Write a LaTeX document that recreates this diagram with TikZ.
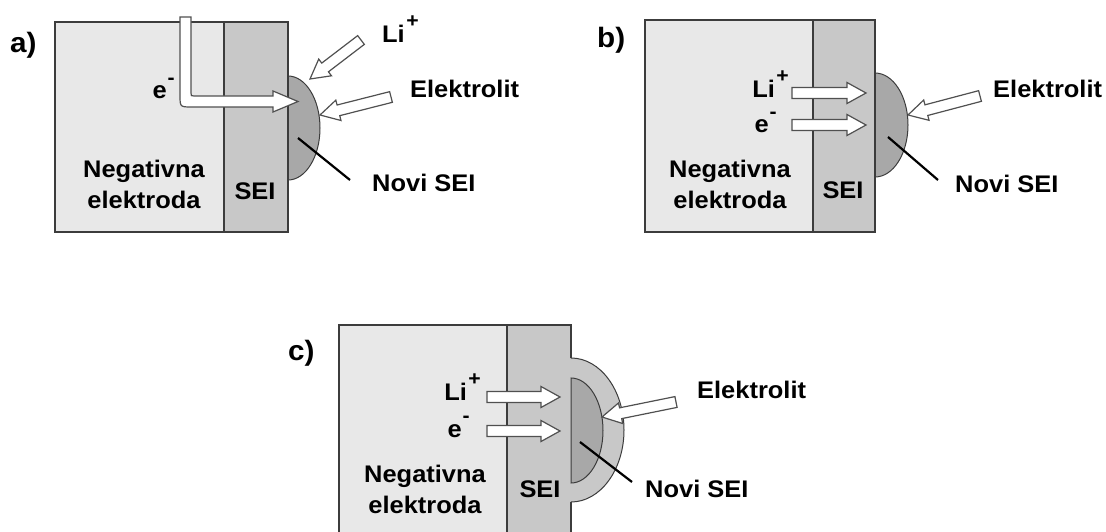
\documentclass[tikz,border=0pt]{standalone}
\usepackage{fontspec}
\setmainfont{Liberation Sans}[FakeStretch=1.06]
\usetikzlibrary{calc}
\definecolor{electrode}{HTML}{E8E8E8}
\definecolor{seicol}{HTML}{C8C8C8}
\definecolor{newsei}{HTML}{A8A8A8}
\definecolor{edge}{HTML}{3C3C3C}
\definecolor{arrowedge}{HTML}{505050}
\newcommand{\liplus}{Li\kern1.5pt\raisebox{15pt}{\fontsize{20}{20}\selectfont +}}
\newcommand{\eminus}{e\kern1pt\raisebox{14.5pt}{\fontsize{20}{20}\selectfont -}}
\tikzset{
  lbl/.style={font=\fontsize{24}{31}\selectfont\bfseries, inner sep=0pt, text=black},
  panel/.style={font=\fontsize{28}{28}\selectfont\bfseries, inner sep=0pt, text=black},
  boxline/.style={draw=edge, line width=1.5pt},
  bulgeline/.style={draw=edge, line width=1pt},
  blockarr/.style={fill=white, draw=arrowedge, line width=1.2pt, line join=miter},
  pointer/.style={draw=black, line width=2.2pt},
}
\newcommand{\blockarrow}[2]{%
  \coordinate (hb) at ($(#2)!19pt!(#1)$);
  \draw[blockarr] ($(#1)!5.5pt!90:(#2)$) -- ($(hb)!5.5pt!90:(#2)$) -- ($(hb)!10.5pt!90:(#2)$) -- (#2)
    -- ($(hb)!10.5pt!-90:(#2)$) -- ($(hb)!5.5pt!-90:(#2)$) -- ($(#1)!5.5pt!-90:(#2)$) -- cycle;}
\begin{document}
\begin{tikzpicture}[x=1pt, y=-1pt]
\useasboundingbox (0,0) rectangle (1106,532);

% ---------------- panel a ----------------
\node[panel, anchor=base west] (alab) at (10,53) {a)};
\fill[electrode] (55,22) rectangle (224,232);
\fill[seicol] (224,22) rectangle (288,232);
\filldraw[fill=newsei, bulgeline] (288,76) arc[start angle=-90, end angle=90, x radius=32, y radius=52] -- cycle;
\draw[boxline] (55,22) rectangle (288,232);
\draw[boxline] (224,22) -- (224,232);
% bent electron arrow
\draw[blockarr] (180,17) -- (191,17) -- (191,93) .. controls (191,96) .. (194,96) -- (273,96) -- (273,91)
  -- (298,101.5) -- (273,112) -- (273,107) -- (192,107) .. controls (180,107) .. (180,95) -- cycle;
\node[lbl, anchor=base east] (ae) at (175,99) {\eminus};
\node[lbl, align=center] (aneg) at (144,184) {Negativna\\elektroda};
\node[lbl, anchor=base] (asei) at (255,199) {SEI};
\node[lbl, anchor=base west] (ali) at (382,43) {\liplus};
\node[lbl, anchor=base west] (ael) at (410,98) {Elektrolit};
\node[lbl, anchor=base west] (anovi) at (372,192) {Novi SEI};
\coordinate (aLiT) at (361,40);
\coordinate (aLiH) at (310,79);
\coordinate (aElT) at (391,97);
\coordinate (aElH) at (320,115);
\blockarrow{aLiT}{aLiH}
\blockarrow{aElT}{aElH}
\coordinate (aP1) at (298,138);
\coordinate (aP2) at (350,180);
\draw[pointer] (aP1) -- (aP2);

% ---------------- panel b ----------------
\node[panel, anchor=base west] (blab) at (597,48) {b)};
\fill[electrode] (645,20) rectangle (813,232);
\fill[seicol] (813,20) rectangle (875,232);
\filldraw[fill=newsei, bulgeline] (875,73) arc[start angle=-90, end angle=90, x radius=33, y radius=52] -- cycle;
\draw[boxline] (645,20) rectangle (875,232);
\draw[boxline] (813,20) -- (813,232);
\node[lbl, anchor=base east] (bli) at (789,98) {\liplus};
\node[lbl, anchor=base east] (be) at (777,133) {\eminus};
\node[lbl, align=center] (bneg) at (730,184) {Negativna\\elektroda};
\node[lbl, anchor=base] (bsei) at (843,198) {SEI};
\node[lbl, anchor=base west] (bel) at (993,98) {Elektrolit};
\node[lbl, anchor=base west] (bnovi) at (955,193) {Novi SEI};
\coordinate (bLiT) at (792,93);
\coordinate (bLiH) at (866,93);
\coordinate (beT) at (792,125);
\coordinate (beH) at (866,125);
\coordinate (bElT) at (980,96);
\coordinate (bElH) at (908,115);
\blockarrow{bLiT}{bLiH}
\blockarrow{beT}{beH}
\blockarrow{bElT}{bElH}
\coordinate (bP1) at (888,137);
\coordinate (bP2) at (938,180);
\draw[pointer] (bP1) -- (bP2);

% ---------------- panel c ----------------
\node[panel, anchor=base west] (clab) at (288,360) {c)};
\fill[electrode] (339,325) rectangle (507,532);
\fill[seicol] (507,325) rectangle (571,532);
\fill[seicol] (571,358) arc[start angle=-90, end angle=90, x radius=53, y radius=72] -- cycle;
\draw[bulgeline] (571,358) arc[start angle=-90, end angle=90, x radius=53, y radius=72];
\filldraw[fill=newsei, bulgeline] (571,378) arc[start angle=-90, end angle=90, x radius=32, y radius=52.5] -- cycle;
\draw[boxline] (339,532) -- (339,325) -- (571,325) -- (571,358);
\draw[boxline] (571,502) -- (571,532);
\draw[boxline] (507,325) -- (507,532);
\node[lbl, anchor=base east] (cli) at (481,400) {\liplus};
\node[lbl, anchor=base east] (ce) at (470,437) {\eminus};
\node[lbl, align=center] (cneg) at (425,489) {Negativna\\elektroda};
\node[lbl, anchor=base] (csei) at (540,497) {SEI};
\node[lbl, anchor=base west] (cel) at (697,398) {Elektrolit};
\node[lbl, anchor=base west] (cnovi) at (645,497) {Novi SEI};
\coordinate (cLiT) at (487,397);
\coordinate (cLiH) at (560,397);
\coordinate (ceT) at (487,431);
\coordinate (ceH) at (560,431);
\coordinate (cElT) at (676,402);
\coordinate (cElH) at (602,417);
\blockarrow{cLiT}{cLiH}
\blockarrow{ceT}{ceH}
\blockarrow{cElT}{cElH}
\coordinate (cP1) at (580,442);
\coordinate (cP2) at (632,482);
\draw[pointer] (cP1) -- (cP2);
\end{tikzpicture}
\end{document}
